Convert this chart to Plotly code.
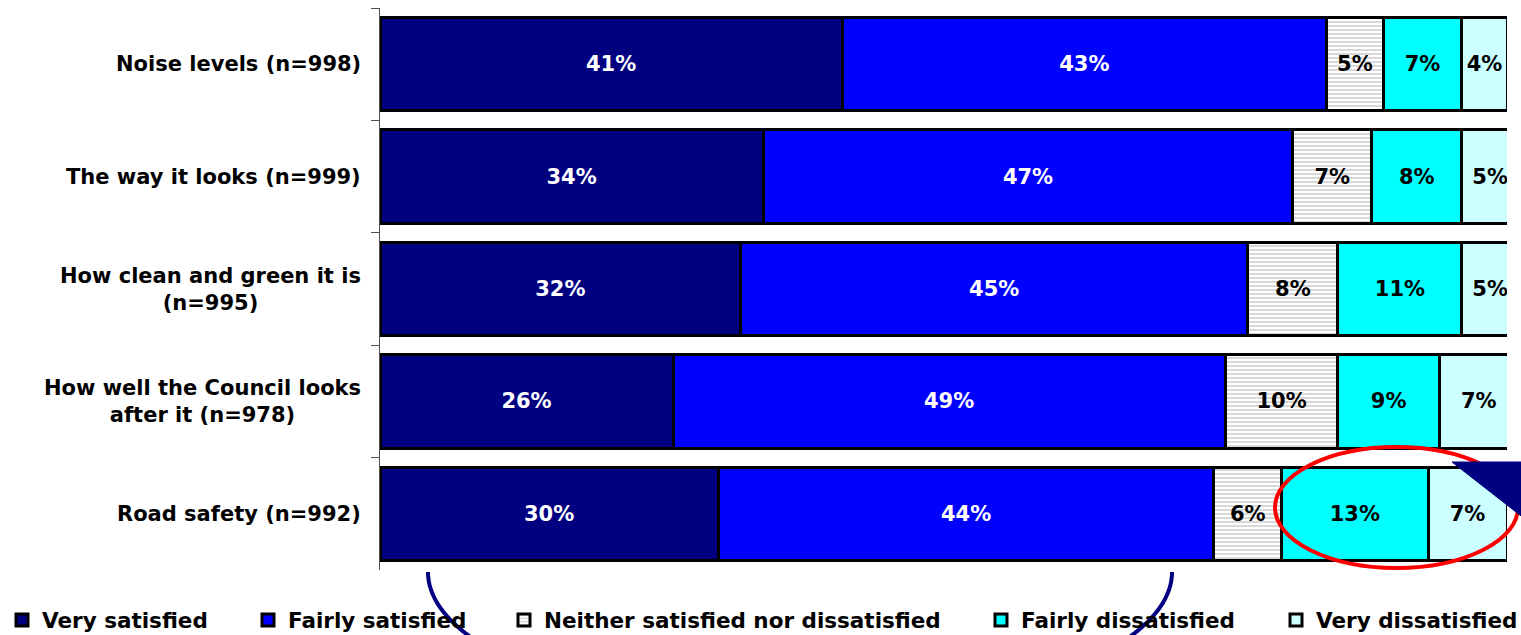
import plotly.graph_objects as go
import numpy as np

categories = ["Noise levels (n=998)", "The way it looks (n=999)",
              "How clean and green it is<br>(n=995)",
              "How well the Council looks<br>after it (n=978)", "Road safety (n=992)"]
cat_align = ["right", "right", "center", "center", "right"]
very_satisfied = [41, 34, 32, 26, 30]
fairly_satisfied = [43, 47, 45, 49, 44]
neither = [5, 7, 8, 10, 6]
fairly_dissatisfied = [7, 8, 11, 9, 13]
very_dissatisfied = [4, 5, 5, 7, 7]
series_names = ["Very satisfied", "Fairly satisfied", "Neither satisfied nor dissatisfied",
                "Fairly dissatisfied", "Very dissatisfied"]

W, H = 1521, 635
L, R, T, B = 380, 14, 8, 65
PX0, PX1, PY0, PY1 = L, W - R, T, H - B

def px(x):
    return (x - PX0) / (PX1 - PX0)

def py(y):
    return (PY1 - y) / (PY1 - PY0)

FONT = "DejaVu Sans"
series = [very_satisfied, fairly_satisfied, neither, fairly_dissatisfied, very_dissatisfied]
colors = ["#000080", "#0000FF", "#FFFFFF", "#00FFFF", "#CCFFFF"]
txtcolors = ["white", "white", "black", "black", "black"]
legend_text_x = [42, 288, 544, 1021, 1316]

fig = go.Figure()
legends = {}
for i, (name, vals) in enumerate(zip(series_names, series)):
    marker = dict(color=colors[i], line=dict(color="black", width=3))
    if i == 2:
        marker["pattern"] = dict(shape="-", fgcolor="#a8a8a8", bgcolor="white",
                                 size=4, solidity=0.45)
    lname = "legend" if i == 0 else f"legend{i+1}"
    fig.add_trace(go.Bar(
        y=categories, x=vals, name=name, orientation="h", marker=marker,
        text=[f"{v}%" for v in vals], textposition="inside",
        insidetextanchor="middle", textangle=0,
        textfont=dict(family=FONT, size=21, color=txtcolors[i], weight="bold"),
        hoverinfo="skip", legend=lname,
    ))
    legends[lname] = dict(orientation="h", x=px(legend_text_x[i] - 40), xanchor="left",
                          y=py(620), yanchor="middle",
                          font=dict(family=FONT, size=21.5, color="black", weight="bold"),
                          itemclick=False, itemdoubleclick=False,
                          bgcolor="rgba(0,0,0,0)", borderwidth=0)

annotations = []
for c, a in zip(categories, cat_align):
    annotations.append(dict(
        x=0, xref="paper", y=c, yref="y", xanchor="right", xshift=-17,
        text=c, showarrow=False, align=a,
        font=dict(family=FONT, size=21, color="black", weight="bold"),
    ))

shapes = []
# red ellipse
shapes.append(dict(type="circle", xref="paper", yref="paper",
                   x0=px(1275), x1=px(1518), y0=py(568), y1=py(447),
                   line=dict(color="#FF0000", width=4), layer="above"))
# navy triangle
shapes.append(dict(type="path", xref="paper", yref="paper",
                   path=f"M{px(1452)},{py(462)} L{px(1525)},{py(462)} L{px(1525)},{py(519)} Z",
                   fillcolor="#000080", line=dict(color="#000080", width=1), layer="above"))
# navy arcs below chart
cx, cy, a_, b_ = 800, 572, 372, 140
th = np.linspace(0, 0.55, 30)
for side in (-1, 1):
    xs = cx + side * a_ * np.cos(th)
    ys = cy + b_ * np.sin(th)
    p = "M" + " L".join(f"{px(x):.5f},{py(y):.5f}" for x, y in zip(xs, ys))
    shapes.append(dict(type="path", xref="paper", yref="paper", path=p,
                       line=dict(color="#000080", width=4), layer="above"))

fig.update_layout(
    width=W, height=H, barmode="stack", bargap=0.17,
    margin=dict(l=L, r=R, t=T, b=B, autoexpand=False),
    plot_bgcolor="white", paper_bgcolor="white",
    font=dict(family=FONT, color="black"),
    xaxis=dict(range=[0, 100], visible=False, fixedrange=True),
    yaxis=dict(autorange="reversed", showticklabels=False, ticks="outside",
               tickson="boundaries", ticklen=8, tickcolor="#505050", tickwidth=1,
               showline=True, linecolor="#505050", linewidth=1, showgrid=False,
               zeroline=False, fixedrange=True),
    uniformtext=dict(minsize=21, mode="show"),
    showlegend=True,
    annotations=annotations, shapes=shapes,
    **legends,
)
fig.write_html("out.html", config={"displayModeBar": False},
               post_script="document.body.style.margin='0';document.body.style.overflow='hidden';")
